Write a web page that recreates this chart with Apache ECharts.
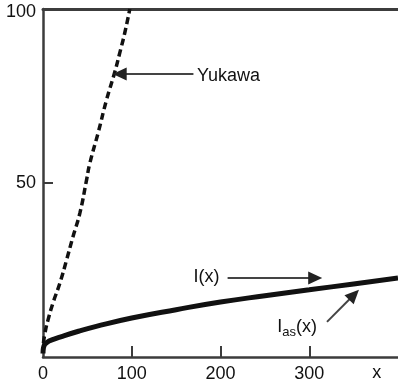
<!DOCTYPE html>
<html><head><meta charset="utf-8">
<script src="https://cdn.jsdelivr.net/npm/echarts@6/dist/echarts.min.js"></script>
<style>html,body{margin:0;padding:0;background:#fff}#c{width:398px;height:385px}</style>
</head><body><div id="c"></div>
<script>
// ---- data ----
const xTickValues = [0, 100, 200, 300];
const yTickValues = [50, 100];
const yukawaX = [0.5, 2.2, 5.6, 11.2, 19.1, 26.6, 33.7, 41.6, 49.1, 52.8, 62.1, 71.6, 80.9, 86.5, 92.1, 97.8];
const yukawaY = [4, 6.9, 10.6, 15.5, 21.3, 27.9, 34.5, 41.4, 50.9, 55.7, 64.4, 73.9, 81.9, 87.4, 93.1, 100];
const ixX = [0, 0.5, 2, 5, 10, 20, 40, 60, 100, 150, 200, 250, 300, 350, 400];
const ixY = [1, 2.6, 3.6, 4.3, 4.9, 5.8, 7.4, 8.8, 11.2, 13.6, 15.8, 17.6, 19.3, 21.0, 22.7];

// ---- annotations (data coordinates) ----
const annotations = [
  { text: 'Yukawa', textAt: [173.5, 80.6], align: 'left', from: [169.5, 81.3], to: [78.5, 81.3] },
  { text: 'I(x)', textAt: [199, 23], align: 'right', from: [208, 22.7], to: [314.6, 22.7] },
  { text: '{m|I}{s|as}{m|(x)}', textAt: [264, 8.6], align: 'left', from: [320, 10.1], to: [356, 19.3] }
];

const chart = echarts.init(document.getElementById('c'), null, { renderer: 'canvas' });
const axisColor = '#3c3c3c';
const font = 'Liberation Sans, Arial, sans-serif';
const fs = 18;

const option = {
  animation: false,
  backgroundColor: '#fff',
  grid: { left: 43, top: 9, right: -1, bottom: 28, containLabel: false },
  xAxis: [{
    type: 'value', min: 0, max: 400, interval: 100,
    axisLine: { show: true, lineStyle: { color: axisColor, width: 2.5 } },
    axisTick: { show: true, inside: true, length: 11, customValues: xTickValues.filter(v => v > 0), lineStyle: { color: axisColor, width: 2 } },
    splitLine: { show: false },
    axisLabel: { color: '#111', fontSize: fs, fontFamily: font, margin: 8, customValues: xTickValues }
  }, {
    type: 'value', position: 'top', min: 0, max: 400,
    axisLine: { show: true, lineStyle: { color: axisColor, width: 3 } },
    axisTick: { show: false }, axisLabel: { show: false }, splitLine: { show: false }
  }],
  yAxis: {
    type: 'value', min: 0, max: 100, interval: 50,
    axisLine: { show: true, lineStyle: { color: axisColor, width: 2.5 } },
    axisTick: { show: true, inside: true, length: 10, customValues: yTickValues.filter(v => v < 100), lineStyle: { color: axisColor, width: 2 } },
    splitLine: { show: false },
    axisLabel: {
      color: '#111', fontSize: fs, fontFamily: font, margin: 7, customValues: yTickValues,
      formatter: v => v === 100 ? '{t|' + v + '}' : String(v),
      rich: { t: { fontSize: fs, fontFamily: font, color: '#111', padding: [7, 0, 0, 0] } }
    }
  },
  series: [{
    type: 'line', name: 'Yukawa', showSymbol: false, smooth: true,
    data: yukawaX.map((x, i) => [x, yukawaY[i]]),
    lineStyle: { color: '#111', width: 3.5, type: [7, 4] },
    clip: true
  }, {
    type: 'line', name: 'I(x)', showSymbol: false, smooth: true,
    data: ixX.map((x, i) => [x, ixY[i]]),
    lineStyle: { color: '#111', width: 5 },
    clip: true
  }]
};
chart.setOption(option);

function buildGraphics() {
  const els = [];
  annotations.forEach(a => {
    const p0 = chart.convertToPixel({ gridIndex: 0 }, a.from);
    const p1 = chart.convertToPixel({ gridIndex: 0 }, a.to);
    const dx = p1[0] - p0[0], dy = p1[1] - p0[1];
    const len = Math.hypot(dx, dy);
    const ux = dx / len, uy = dy / len;
    const L = 14, W = 6.5;
    const bx = p1[0] - ux * L, by = p1[1] - uy * L;
    els.push({ type: 'line', shape: { x1: p0[0], y1: p0[1], x2: bx + ux * 2, y2: by + uy * 2 },
      style: { stroke: '#444', lineWidth: 2 }, z: 10 });
    els.push({ type: 'polygon', shape: { points: [[p1[0], p1[1]], [bx - uy * W, by + ux * W], [bx + uy * W, by - ux * W]] },
      style: { fill: '#222' }, z: 10 });
    const t = chart.convertToPixel({ gridIndex: 0 }, a.textAt);
    els.push({ type: 'text', x: t[0], y: t[1], z: 11,
      style: {
        text: a.text, align: a.align, verticalAlign: 'middle', fill: '#111',
        fontSize: fs, fontFamily: font,
        rich: {
          m: { fontSize: fs, fontFamily: font, fill: '#111', lineHeight: 20 },
          s: { fontSize: 13, fontFamily: font, fill: '#111', lineHeight: 20, padding: [11, 0, 0, 0] }
        }
      } });
  });
  // axis name "x"
  const xp = chart.convertToPixel({ gridIndex: 0 }, [376, 0]);
  els.push({ type: 'text', x: xp[0], y: xp[1] + 16, style: { text: 'x', align: 'center', verticalAlign: 'middle', fill: '#111', fontSize: fs, fontFamily: font } });
  chart.setOption({ graphic: els });
}
buildGraphics();
</script>
</body></html>
